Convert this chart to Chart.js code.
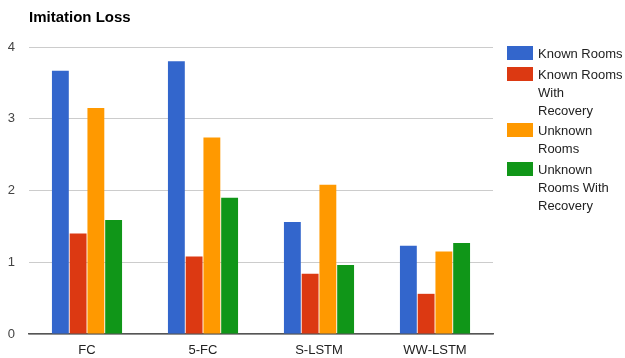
<!DOCTYPE html>
<html>
<head>
<meta charset="utf-8">
<script src="https://cdn.jsdelivr.net/npm/chart.js@4.4.0/dist/chart.umd.min.js"></script>
<style>
  html, body { margin: 0; padding: 0; background: #fff; }
  #wrap { position: relative; width: 625px; height: 358px; overflow: hidden; font-family: "Liberation Sans", Arial, sans-serif; }
  #c { position: absolute; left: 0; top: 0; }
  #title { position: absolute; left: 29px; top: 8px; font-size: 15px; line-height: 17px; font-weight: bold; color: #000; }
  #legend { position: absolute; left: 507px; top: 46px; width: 118px; }
  .item { display: flex; align-items: flex-start; margin-bottom: 3.5px; }
  .box { width: 26px; height: 14px; flex: none; }
  .lbl { margin-left: 5px; font-size: 13px; line-height: 18px; color: #222; margin-top: -1px; white-space: nowrap; }
</style>
</head>
<body>
<div id="wrap">
  <canvas id="c" width="625" height="358"></canvas>
  <div id="title">Imitation Loss</div>
  <div id="legend"></div>
</div>
<script>
const categories = ["FC", "5-FC", "S-LSTM", "WW-LSTM"];
const seriesNames = ["Known Rooms", "Known Rooms With Recovery", "Unknown Rooms", "Unknown Rooms With Recovery"];
const legendLines = [["Known Rooms"], ["Known Rooms", "With", "Recovery"], ["Unknown", "Rooms"], ["Unknown", "Rooms With", "Recovery"]];
const knownRooms = [3.67, 3.80, 1.56, 1.23];
const knownRoomsRecovery = [1.40, 1.08, 0.84, 0.56];
const unknownRooms = [3.15, 2.74, 2.08, 1.15];
const unknownRoomsRecovery = [1.59, 1.90, 0.96, 1.27];
const yTicks = [0, 1, 2, 3, 4];
const colors = ["#3366cc", "#dc3912", "#ff9900", "#109618"];

const seriesValues = [knownRooms, knownRoomsRecovery, unknownRooms, unknownRoomsRecovery];

const legend = document.getElementById('legend');
seriesNames.forEach((n, i) => {
  const it = document.createElement('div');
  it.className = 'item';
  const b = document.createElement('div');
  b.className = 'box';
  b.style.background = colors[i];
  const l = document.createElement('div');
  l.className = 'lbl';
  legendLines[i].forEach((t, k) => {
    if (k > 0) l.appendChild(document.createElement('br'));
    l.appendChild(document.createTextNode(t));
  });
  it.appendChild(b); it.appendChild(l);
  legend.appendChild(it);
});

const font = { family: '"Liberation Sans", Arial, sans-serif', size: 13 };

new Chart(document.getElementById('c'), {
  type: 'bar',
  data: {
    labels: categories,
    datasets: seriesNames.map((n, i) => ({
      label: n,
      data: seriesValues[i],
      backgroundColor: colors[i],
      borderWidth: 0,
      categoryPercentage: 0.612,
      barPercentage: 0.95
    }))
  },
  options: {
    responsive: false,
    animation: false,
    devicePixelRatio: 1,
    layout: { padding: { left: 0, right: 132, top: 47, bottom: 0 } },
    plugins: { legend: { display: false }, title: { display: false }, tooltip: { enabled: false } },
    scales: {
      x: {
        grid: { display: false, drawTicks: false, tickLength: 0 },
        border: { display: true, color: '#555', width: 1.5 },
        ticks: { color: '#222', font: font, padding: 9, maxRotation: 0 },
        afterFit: (s) => { s.height = 358 - 334; }
      },
      y: {
        min: 0, max: 4,
        afterBuildTicks: (s) => { s.ticks = yTicks.map(v => ({ value: v })); },
        grid: { color: '#cccccc', drawTicks: false },
        border: { display: false },
        ticks: { color: '#444', font: font, padding: 14 },
        afterFit: (s) => { s.width = 29; }
      }
    }
  }
});
</script>
</body>
</html>
